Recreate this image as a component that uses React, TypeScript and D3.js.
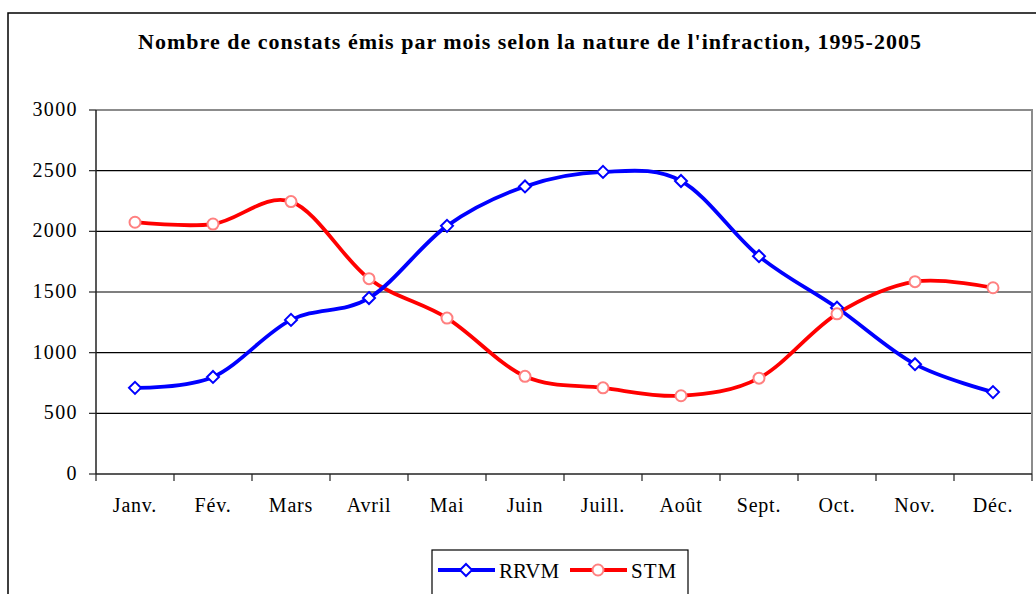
import * as d3 from 'd3';

const months = ['Janv.', 'Fév.', 'Mars', 'Avril', 'Mai', 'Juin', 'Juill.', 'Août', 'Sept.', 'Oct.', 'Nov.', 'Déc.'];
const rrvm = [710, 800, 1270, 1450, 2045, 2370, 2490, 2415, 1795, 1370, 905, 675];
const stm = [2075, 2060, 2245, 1610, 1285, 805, 710, 645, 790, 1320, 1585, 1535];
const yTicks = [0, 500, 1000, 1500, 2000, 2500, 3000];

const W = 1036;
const H = 594;
const font = '"Liberation Serif", "DejaVu Serif", serif';

export default function App() {
  // plot area
  const left = 96;
  const right = 1032;
  const top = 110;
  const bottom = 474;

  const x = d3.scaleBand<string>().domain(months).range([left, right]).padding(0);
  const y = d3.scaleLinear().domain([0, 3000]).range([bottom, top]);
  const cx = (m: string) => (x(m) ?? 0) + x.bandwidth() / 2;

  // Excel style smoothed line
  const line = d3
    .line<number>()
    .x((_, i) => cx(months[i]))
    .y((d) => y(d))
    .curve(d3.curveCatmullRom.alpha(0));

  const bandEdges = months.map((m) => x(m) ?? 0).concat([right]);

  const diamond = (px: number, py: number, r: number) =>
    `M${px},${py - r}L${px + r},${py}L${px},${py + r}L${px - r},${py}Z`;

  return (
    <svg
      width={W}
      height={H}
      style={{ position: 'absolute', left: 0, top: 0, display: 'block', background: '#fff' }}
      fontFamily={font}
    >
      {/* outer chart border */}
      <rect x={8} y={13} width={1040} height={600} fill="#fff" stroke="#000" strokeWidth={1.5} />

      <text x={530} y={49} textAnchor="middle" fontSize={22} fontWeight="bold" letterSpacing={1}>
        Nombre de constats émis par mois selon la nature de l'infraction, 1995-2005
      </text>

      {/* grid lines */}
      {yTicks.slice(1, -1).map((t) => (
        <line key={t} x1={left} x2={right} y1={y(t)} y2={y(t)} stroke="#000" strokeWidth={1.2} />
      ))}
      {/* plot area border top/right */}
      <path d={`M${left},${top}H${right}V${bottom}`} fill="none" stroke="#8c8c8c" strokeWidth={2} />

      {/* y axis */}
      <line x1={left} x2={left} y1={top} y2={bottom} stroke="#222" strokeWidth={1.5} />
      {yTicks.map((t) => (
        <g key={t}>
          <line x1={left - 7} x2={left} y1={y(t)} y2={y(t)} stroke="#222" strokeWidth={1.2} />
          <text x={78} y={y(t) + 6} textAnchor="end" fontSize={20} letterSpacing={1.4}>
            {t}
          </text>
        </g>
      ))}

      {/* x axis */}
      <line x1={left} x2={right} y1={bottom} y2={bottom} stroke="#222" strokeWidth={1.5} />
      {bandEdges.map((e, i) => (
        <line key={i} x1={e} x2={e} y1={bottom} y2={bottom + 7} stroke="#222" strokeWidth={1.2} />
      ))}
      {months.map((m) => (
        <text key={m} x={cx(m)} y={512} textAnchor="middle" fontSize={20} letterSpacing={0.8}>
          {m}
        </text>
      ))}

      {/* series */}
      <path d={line(stm) ?? ''} fill="none" stroke="#ff0000" strokeWidth={3.8} strokeLinejoin="round" />
      <path d={line(rrvm) ?? ''} fill="none" stroke="#0000ff" strokeWidth={3.8} strokeLinejoin="round" />
      {rrvm.map((v, i) => (
        <path key={i} d={diamond(cx(months[i]), y(v), 6)} fill="#fff" stroke="#0000ff" strokeWidth={2} />
      ))}
      {stm.map((v, i) => (
        <circle key={i} cx={cx(months[i])} cy={y(v)} r={5.5} fill="#fff" stroke="#ff8080" strokeWidth={2} />
      ))}

      {/* legend */}
      <rect x={432} y={550} width={256} height={60} fill="#fff" stroke="#000" strokeWidth={1.2} />
      <line x1={438} x2={495} y1={570} y2={570} stroke="#0000ff" strokeWidth={3.8} />
      <path d={diamond(466, 570, 6)} fill="#fff" stroke="#0000ff" strokeWidth={2} />
      <text x={499} y={578} fontSize={21}>
        RRVM
      </text>
      <line x1={570} x2={627} y1={570} y2={570} stroke="#ff0000" strokeWidth={3.8} />
      <circle cx={598} cy={570} r={5.5} fill="#fff" stroke="#ff8080" strokeWidth={2} />
      <text x={631} y={578} fontSize={21} letterSpacing={1}>
        STM
      </text>
    </svg>
  );
}
